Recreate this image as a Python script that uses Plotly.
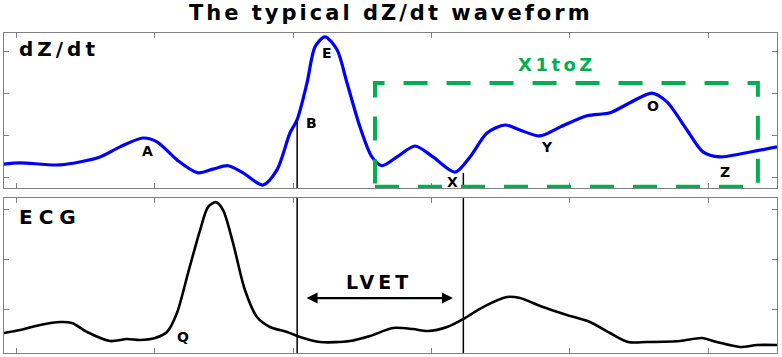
import plotly.graph_objects as go

# ---------------- data ----------------
title_text = "The typical dZ/dt waveform"

dz_t = [-8.7, 2.9, 31.8, 60.6, 75.1, 91.7, 101.8, 116.2, 131.4, 142.2, 153.1, 163.9,
        178.3, 188.4, 197.8, 202.9, 210.1, 215.9, 223.1, 231.8, 239.0, 248.4, 257.0,
        264.3, 275.1, 288.1, 301.1, 317.0, 327.8, 340.1, 353.1, 363.9, 378.3, 392.8,
        412.3, 428.9, 443.3, 459.2, 470.0, 484.5, 496.0, 508.3, 522.7, 549.5]
dz_v = [0.33, 0.36, 0.31, 0.50, 0.74, 0.95, 0.86, 0.43, 0.12, 0.21, 0.29, 0.12,
        -0.17, 0.19, 1.07, 1.38, 2.26, 3.12, 3.36, 3.05, 2.26, 1.21, 0.50,
        0.29, 0.50, 0.76, 0.50, 0.14, 0.50, 1.07, 1.26, 1.14, 1.00, 1.21,
        1.48, 1.55, 1.79, 2.02, 1.81, 1.14, 0.62, 0.50, 0.57, 0.74]

ecg_t = [-8.7, 2.9, 17.3, 31.8, 40.4, 51.3, 67.9, 80.1, 89.5, 100.4, 109.0, 116.2,
         124.2, 132.9, 138.6, 144.4, 149.5, 156.7, 165.3, 174.0, 183.4, 195.7, 205.1,
         219.5, 241.2, 255.6, 272.2, 286.6, 297.5, 311.2, 324.2, 337.2, 354.5, 363.9,
         380.5, 397.8, 414.4, 428.9, 441.9, 455.6, 479.4, 495.3, 506.1, 522.7, 535.0, 549.5]
ecg_v = [0.52, 0.58, 0.68, 0.74, 0.72, 0.54, 0.36, 0.40, 0.38, 0.42, 0.54, 0.92,
         1.72, 2.58, 3.04, 3.14, 2.98, 2.32, 1.38, 0.84, 0.64, 0.54, 0.44,
         0.34, 0.36, 0.46, 0.62, 0.60, 0.56, 0.64, 0.82, 1.04, 1.24, 1.22,
         1.04, 0.88, 0.74, 0.52, 0.34, 0.34, 0.36, 0.42, 0.34, 0.24, 0.28, 0.28]

x_ticks = [0, 100, 200, 300, 400, 500]
dz_ticks = [0, 1, 2, 3]
ecg_ticks = [1, 2, 3]

point_labels = ["A", "B", "E", "X", "Y", "O", "Z"]
point_t = [94.6, 213.7, 224.5, 315.5, 383.4, 459.9, 511.9]
point_v = [0.64, 1.31, 2.98, -0.10, 0.74, 1.71, 0.14]

q_label = "Q"
q_t, q_v = 120.6, 0.44

event_t = [203.0, 323.0]        # B point, X point
event_v = [1.33, 0.12]          # level on the dZ/dt curve

box_t = [259.2, 535.7]          # X1toZ window
box_v = [-0.21, 2.26]
box_label = "X1toZ"
box_label_t, box_label_v = 390.6, 2.69

lvet_label = "LVET"
lvet_t = [208.7, 315.5]
lvet_v = 1.22
lvet_label_v = 1.54

panel_names = ["dZ/dt", "ECG"]

x_range = [-8.7, 549.5]
dz_range = [-0.24, 3.45]
ecg_range = [0.12, 3.22]

# ---------------- figure ----------------
FONT = "DejaVu Sans"
GREEN = "#00b050"
FRAME = "#808080"


def spaced(txt, ls):
    return f'<span style="letter-spacing:{ls}px">{txt}</span>'


fig = go.Figure()
fig.add_trace(go.Scatter(x=dz_t, y=dz_v, mode="lines", xaxis="x", yaxis="y",
                         line=dict(color="#0000ff", width=3.2, shape="spline", smoothing=0.8),
                         hoverinfo="skip", showlegend=False))
fig.add_trace(go.Scatter(x=ecg_t, y=ecg_v, mode="lines", xaxis="x2", yaxis="y2",
                         line=dict(color="#000000", width=2.6, shape="spline", smoothing=0.8),
                         hoverinfo="skip", showlegend=False))

axis_common = dict(showline=True, mirror="ticks", linecolor=FRAME, linewidth=1,
                   ticks="inside", ticklen=5, tickcolor=FRAME, tickwidth=1,
                   showticklabels=False, showgrid=False, zeroline=False, fixedrange=True)

shapes = []
# vertical event lines
for t, v in zip(event_t, event_v):
    shapes.append(dict(type="line", xref="x", yref="y", x0=t, x1=t, y0=dz_range[0], y1=v,
                       line=dict(color="black", width=1.5)))
    shapes.append(dict(type="line", xref="x2", yref="y2", x0=t, x1=t, y0=ecg_range[0], y1=ecg_range[1],
                       line=dict(color="black", width=1.5)))
# green dashed window
shapes.append(dict(type="rect", xref="x", yref="y", x0=box_t[0], x1=box_t[1], y0=box_v[0], y1=box_v[1],
                   line=dict(color=GREEN, width=4, dash="24px,19px"), fillcolor="rgba(0,0,0,0)"))

annotations = []
annotations.append(dict(xref="paper", yref="paper", x=0.5, y=1.0625, text=spaced(title_text, 3.0),
                        showarrow=False, xanchor="center", yanchor="middle",
                        font=dict(family=FONT, size=21, color="black", weight="bold")))
annotations.append(dict(xref="x", yref="y", x=0.7, y=3.07, text=spaced(panel_names[0], 4),
                        showarrow=False, xanchor="left", yanchor="middle",
                        font=dict(family=FONT, size=20, color="black", weight="bold")))
annotations.append(dict(xref="x2", yref="y2", x=0.7, y=2.84, text=spaced(panel_names[1], 6),
                        showarrow=False, xanchor="left", yanchor="middle",
                        font=dict(family=FONT, size=20, color="black", weight="bold")))
for lab, t, v in zip(point_labels, point_t, point_v):
    annotations.append(dict(xref="x", yref="y", x=t, y=v, text=lab, showarrow=False,
                            xanchor="center", yanchor="middle",
                            font=dict(family=FONT, size=14, color="black", weight="bold")))
annotations.append(dict(xref="x2", yref="y2", x=q_t, y=q_v, text=q_label, showarrow=False,
                        xanchor="center", yanchor="middle",
                        font=dict(family=FONT, size=14, color="black", weight="bold")))
annotations.append(dict(xref="x", yref="y", x=box_label_t, y=box_label_v, text=spaced(box_label, 3.5),
                        showarrow=False, xanchor="center", yanchor="middle",
                        font=dict(family=FONT, size=18, color=GREEN, weight="bold")))
annotations.append(dict(xref="x2", yref="y2", x=sum(lvet_t) / 2, y=lvet_label_v, text=spaced(lvet_label, 4),
                        showarrow=False, xanchor="center", yanchor="middle",
                        font=dict(family=FONT, size=19, color="black", weight="bold")))
annotations.append(dict(xref="x2", yref="y2", x=lvet_t[1], y=lvet_v, ax=lvet_t[0], ay=lvet_v,
                        axref="x2", ayref="y2", text="", showarrow=True, arrowhead=2,
                        arrowside="end+start", arrowwidth=2.2, arrowsize=1, arrowcolor="black"))

fig.update_layout(
    width=782, height=357,
    margin=dict(l=4, r=5, t=33, b=4),
    paper_bgcolor="white", plot_bgcolor="white",
    showlegend=False,
    xaxis=dict(domain=[0, 1], range=x_range, tickvals=x_ticks, anchor="y", **axis_common),
    yaxis=dict(domain=[0.5156, 1], range=dz_range, tickvals=dz_ticks, anchor="x", **axis_common),
    xaxis2=dict(domain=[0, 1], range=x_range, tickvals=x_ticks, anchor="y2", **axis_common),
    yaxis2=dict(domain=[0, 0.484], range=ecg_range, tickvals=ecg_ticks, anchor="x2", **axis_common),
    shapes=shapes,
    annotations=annotations,
)

fig.write_html("out.html", config={"displayModeBar": False},
               post_script="document.body.style.margin='0';")
